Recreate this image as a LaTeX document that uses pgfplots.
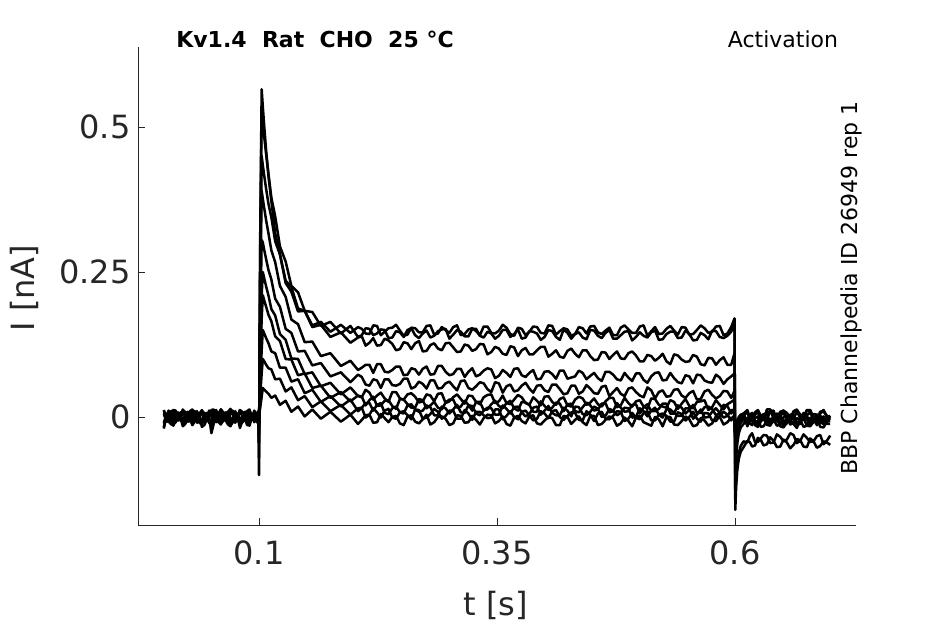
\documentclass[border=0pt]{standalone}
\usepackage{pgfplots}
\pgfplotsset{compat=1.18}
\usepackage{pgfplotstable}
\usepackage{fontspec}
\setmainfont{DejaVu Sans}
\definecolor{tickgray}{HTML}{262626}

\pgfplotstableread{
t A B C D E F G H I J
0.000 0.008 -0.012 0.005 0.010 -0.018 0.006 -0.010 0.012 -0.020 0.004
0.0025 0.005 -0.007 0.006 0.002 -0.001 -0.006 0.003 0.000 0.001 -0.001
0.005 -0.004 0.006 -0.009 0.002 -0.002 -0.008 0.007 -0.004 -0.008 0.011
0.0075 -0.004 0.004 -0.002 0.009 -0.013 0.004 -0.001 0.009 -0.010 0.008
0.010 0.010 -0.008 0.007 0.012 -0.012 0.009 -0.012 0.010 -0.015 -0.006
0.0125 0.010 -0.004 -0.005 0.011 -0.003 0.001 -0.009 0.007 -0.005 -0.005
0.015 -0.002 0.004 -0.006 0.000 0.003 -0.005 0.005 -0.006 -0.002 0.008
0.0175 0.000 0.002 0.008 0.000 0.001 -0.003 0.001 -0.005 -0.001 0.002
0.020 0.012 -0.010 0.009 0.011 -0.014 0.010 -0.009 0.013 -0.016 -0.007
0.0225 0.007 -0.011 0.001 0.004 -0.008 0.009 -0.006 0.005 -0.012 0.004
0.025 0.000 0.003 -0.008 0.003 0.001 -0.007 0.006 -0.002 -0.004 0.009
0.0275 0.002 -0.001 -0.007 0.010 -0.006 -0.001 0.006 -0.002 -0.003 -0.007
0.030 0.009 -0.011 0.006 0.013 -0.010 0.008 -0.013 0.011 -0.014 -0.005
0.0325 -0.005 0.003 0.003 -0.004 0.004 0.006 -0.002 0.010 -0.008 0.006
0.035 -0.005 0.005 -0.010 -0.001 0.002 -0.004 0.004 -0.005 0.000 0.010
0.0375 0.006 -0.006 0.004 0.006 -0.010 0.002 -0.008 0.003 0.002 -0.003
0.040 0.011 -0.009 0.008 0.010 -0.013 0.011 -0.008 0.012 -0.017 -0.004
0.0425 -0.001 -0.003 -0.009 0.007 -0.004 -0.005 0.005 0.001 -0.014 0.001
0.045 -0.003 0.002 -0.007 0.004 0.000 -0.006 0.006 -0.003 -0.005 0.007
0.0475 0.011 -0.010 0.002 -0.002 0.002 0.005 -0.004 0.008 -0.006 -0.008
0.050 0.007 -0.013 0.004 0.012 -0.028 0.007 -0.011 0.010 -0.018 -0.006
0.0525 -0.003 0.001 -0.003 0.013 -0.011 0.008 -0.007 -0.006 -0.002 0.005
0.055 -0.001 0.006 -0.009 0.001 0.002 -0.008 0.005 -0.004 -0.003 0.012
0.0575 0.003 0.005 0.007 0.003 -0.002 -0.007 0.002 0.006 -0.009 0.002
0.060 0.013 -0.010 0.010 0.011 -0.011 0.009 -0.010 0.013 -0.013 -0.003
0.0625 0.008 -0.005 0.000 0.000 -0.007 0.003 0.007 0.004 0.000 -0.006
0.065 -0.004 0.004 -0.006 0.003 -0.001 -0.005 0.007 -0.006 -0.006 0.008
0.0675 -0.006 0.000 -0.006 0.009 0.003 -0.002 -0.005 -0.001 -0.013 0.007
0.070 0.010 -0.012 0.007 0.014 -0.015 0.010 -0.012 0.011 -0.016 -0.005
0.0725 0.004 -0.008 0.005 0.005 -0.009 0.007 0.000 0.011 -0.004 -0.004
0.075 -0.002 0.003 -0.010 0.000 0.003 -0.007 0.004 -0.002 -0.001 0.010
0.0775 0.000 0.006 -0.001 -0.003 -0.005 -0.004 0.004 -0.003 0.000 0.000
0.080 0.011 -0.009 0.008 0.012 -0.012 0.008 -0.009 0.012 -0.019 -0.007
0.0825 0.009 -0.009 0.008 0.007 0.000 0.004 -0.010 0.003 -0.007 0.003
0.085 -0.005 0.005 -0.007 0.002 0.000 -0.006 0.006 -0.005 -0.004 0.009
0.0875 -0.002 -0.002 -0.004 0.010 -0.014 0.010 0.000 0.007 -0.011 0.008
0.090 0.009 -0.011 0.006 0.013 -0.014 0.011 -0.011 0.010 -0.015 -0.004
0.0925 0.005 0.004 0.002 -0.001 0.001 -0.005 -0.003 -0.004 0.003 -0.002
0.095 -0.003 0.004 -0.009 0.001 0.002 -0.004 0.005 -0.003 -0.002 0.011
0.0995 0.006 -0.008 0.005 0.010 -0.010 0.007 -0.008 0.009 -0.012 -0.002
0.1000 -0.100 -0.070 -0.045 -0.030 -0.020 -0.012 -0.008 -0.004 -0.006 0.000
0.1012 0.300 0.280 0.230 0.190 0.140 0.100 0.080 0.055 0.035 0.015
0.1028 0.565 0.530 0.450 0.390 0.305 0.210 0.170 0.115 0.075 0.035
0.1040 0.535 0.508 0.434 0.376 0.301 0.250 0.210 0.150 0.100 0.050
0.1055 0.501 0.483 0.416 0.360 0.288 0.239 0.201 0.144 0.096 0.047
0.1075 0.459 0.453 0.393 0.339 0.272 0.225 0.190 0.136 0.090 0.044
0.1100 0.415 0.418 0.367 0.316 0.253 0.209 0.176 0.127 0.084 0.040
0.1130 0.372 0.378 0.344 0.287 0.237 0.186 0.165 0.113 0.082 0.033
0.1170 0.317 0.346 0.303 0.267 0.204 0.175 0.139 0.110 0.065 0.037
0.1220 0.281 0.294 0.280 0.226 0.190 0.143 0.131 0.085 0.066 0.021
0.1280 0.231 0.268 0.235 0.207 0.152 0.133 0.100 0.085 0.044 0.028
0.1340 0.216 0.226 0.224 0.168 0.145 0.101 0.099 0.061 0.051 0.009
0.1410 0.182 0.215 0.187 0.160 0.113 0.100 0.072 0.065 0.029 0.018
0.1480 0.183 0.183 0.183 0.129 0.114 0.074 0.075 0.041 0.036 0.001
0.1560 0.158 0.181 0.155 0.130 0.089 0.077 0.050 0.047 0.017 0.013
0.1650 0.164 0.157 0.159 0.105 0.093 0.053 0.054 0.026 0.027 -0.003
0.1750 0.147 0.164 0.138 0.110 0.070 0.059 0.033 0.036 0.010 0.009
0.1860 0.159 0.144 0.146 0.088 0.077 0.039 0.043 0.018 0.021 -0.008
0.1960 0.145 0.157 0.128 0.097 0.060 0.051 0.027 0.030 0.004 0.004
0.204 0.155 0.138 0.137 0.081 0.073 0.036 0.037 0.010 0.015 -0.012
0.208 0.152 0.141 0.139 0.085 0.069 0.034 0.035 0.016 0.016 -0.005
0.212 0.144 0.153 0.123 0.090 0.056 0.047 0.020 0.024 -0.001 0.003
0.216 0.143 0.152 0.128 0.090 0.054 0.042 0.029 0.024 0.004 0.004
0.220 0.158 0.141 0.136 0.076 0.065 0.030 0.035 0.011 0.015 -0.010
0.224 0.157 0.144 0.123 0.091 0.063 0.037 0.019 0.021 0.008 -0.009
0.228 0.141 0.151 0.124 0.091 0.050 0.042 0.020 0.024 -0.001 0.005
0.232 0.147 0.150 0.135 0.078 0.065 0.032 0.028 0.007 0.011 -0.002
0.236 0.153 0.136 0.132 0.077 0.065 0.026 0.029 0.005 0.014 -0.009
0.240 0.154 0.137 0.126 0.081 0.055 0.043 0.019 0.015 -0.001 0.000
0.244 0.159 0.148 0.115 0.087 0.054 0.043 0.014 0.018 -0.003 0.002
0.248 0.149 0.146 0.117 0.087 0.057 0.032 0.031 0.008 0.008 -0.011
0.252 0.140 0.138 0.129 0.072 0.066 0.030 0.030 0.006 0.010 -0.014
0.256 0.142 0.150 0.127 0.073 0.066 0.039 0.022 0.020 0.003 0.001
0.260 0.154 0.153 0.117 0.084 0.049 0.041 0.016 0.022 -0.004 0.003
0.264 0.153 0.141 0.127 0.082 0.052 0.035 0.016 0.013 0.013 -0.008
0.268 0.146 0.136 0.131 0.073 0.061 0.025 0.031 0.009 0.012 -0.011
0.272 0.146 0.144 0.113 0.083 0.057 0.027 0.029 0.011 -0.003 -0.004
0.276 0.157 0.149 0.114 0.087 0.049 0.039 0.015 0.020 -0.001 0.004
0.280 0.158 0.137 0.124 0.073 0.063 0.037 0.020 0.017 0.005 -0.013
0.284 0.142 0.140 0.127 0.074 0.063 0.027 0.026 0.003 0.014 -0.009
0.288 0.144 0.148 0.118 0.088 0.049 0.040 0.016 0.003 0.009 0.000
0.292 0.155 0.151 0.115 0.088 0.050 0.041 0.013 0.018 -0.003 0.001
0.296 0.150 0.152 0.127 0.078 0.058 0.024 0.025 0.015 0.002 -0.003
0.300 0.145 0.135 0.128 0.072 0.061 0.027 0.030 0.006 0.011 -0.014
0.304 0.155 0.142 0.120 0.074 0.053 0.034 0.030 0.013 0.011 -0.011
0.308 0.158 0.150 0.112 0.083 0.046 0.039 0.016 0.021 -0.003 0.003
0.312 0.141 0.147 0.113 0.083 0.062 0.031 0.018 0.008 -0.003 0.002
0.316 0.143 0.139 0.125 0.069 0.063 0.023 0.028 0.007 0.012 -0.010
0.320 0.151 0.139 0.123 0.078 0.050 0.037 0.021 0.020 0.006 -0.009
0.324 0.153 0.152 0.114 0.084 0.047 0.036 0.011 0.019 -0.005 0.002
0.328 0.148 0.152 0.117 0.070 0.053 0.026 0.026 0.006 0.009 -0.005
0.332 0.141 0.140 0.126 0.073 0.060 0.022 0.026 0.003 0.009 -0.013
0.336 0.156 0.137 0.125 0.080 0.058 0.034 0.012 0.011 0.003 -0.002
0.340 0.156 0.147 0.108 0.084 0.048 0.038 0.013 0.016 -0.002 0.004
0.344 0.145 0.144 0.112 0.082 0.043 0.039 0.022 0.015 -0.001 0.003
0.348 0.144 0.135 0.121 0.067 0.060 0.024 0.028 0.004 0.013 -0.011
0.352 0.149 0.140 0.118 0.071 0.058 0.027 0.019 0.004 0.013 -0.007
0.356 0.159 0.150 0.109 0.081 0.042 0.037 0.015 0.020 -0.004 0.001
0.360 0.154 0.150 0.107 0.076 0.053 0.024 0.024 0.014 0.002 -0.012
0.364 0.143 0.138 0.122 0.069 0.056 0.022 0.028 0.006 0.010 -0.015
0.368 0.140 0.143 0.120 0.083 0.044 0.030 0.015 0.017 0.000 -0.001
0.372 0.154 0.151 0.105 0.084 0.046 0.038 0.011 0.018 -0.004 0.002
0.376 0.152 0.135 0.115 0.072 0.054 0.034 0.026 0.008 0.009 -0.007
0.380 0.141 0.137 0.119 0.069 0.059 0.024 0.025 0.001 0.011 -0.011
0.384 0.147 0.148 0.108 0.076 0.049 0.021 0.021 0.005 0.003 0.001
0.388 0.156 0.147 0.108 0.081 0.042 0.034 0.009 0.016 -0.006 0.003
0.392 0.155 0.144 0.115 0.065 0.054 0.028 0.009 0.018 -0.003 -0.011
0.396 0.145 0.133 0.121 0.066 0.055 0.020 0.027 0.004 0.010 -0.013
0.400 0.144 0.138 0.121 0.078 0.046 0.035 0.019 0.011 0.006 -0.006
0.404 0.158 0.150 0.104 0.079 0.043 0.036 0.012 0.019 -0.002 0.000
0.408 0.157 0.148 0.109 0.074 0.056 0.026 0.016 0.007 0.010 -0.002
0.412 0.142 0.138 0.115 0.066 0.056 0.021 0.025 0.003 0.012 -0.014
0.416 0.148 0.133 0.104 0.080 0.048 0.031 0.023 0.003 0.000 -0.014
0.420 0.153 0.151 0.102 0.080 0.039 0.034 0.010 0.016 -0.005 0.002
0.424 0.151 0.145 0.114 0.066 0.041 0.020 0.022 0.011 0.002 0.000
0.428 0.140 0.135 0.118 0.068 0.054 0.018 0.023 0.001 0.008 -0.012
0.432 0.143 0.143 0.109 0.070 0.054 0.030 0.010 0.018 0.007 -0.005
0.436 0.155 0.146 0.103 0.080 0.040 0.035 0.008 0.017 -0.005 0.001
0.440 0.153 0.137 0.115 0.076 0.044 0.032 0.017 0.005 -0.006 -0.009
0.444 0.144 0.134 0.115 0.065 0.055 0.021 0.025 0.003 0.010 -0.014
0.448 0.156 0.150 0.105 0.071 0.049 0.025 0.020 0.009 0.004 0.002
0.452 0.157 0.149 0.098 0.076 0.041 0.032 0.011 0.018 -0.007 0.002
0.456 0.146 0.140 0.099 0.067 0.040 0.022 0.013 0.014 0.006 -0.014
0.460 0.143 0.136 0.112 0.062 0.052 0.018 0.023 0.000 0.009 -0.012
0.464 0.149 0.145 0.111 0.078 0.054 0.027 0.024 0.002 -0.003 -0.005
0.468 0.154 0.150 0.100 0.078 0.036 0.033 0.008 0.014 -0.004 0.001
0.472 0.141 0.135 0.107 0.073 0.043 0.033 0.010 0.011 0.002 -0.002
0.476 0.141 0.135 0.113 0.065 0.050 0.017 0.024 0.003 0.010 -0.015
0.480 0.154 0.141 0.101 0.063 0.040 0.020 0.016 0.007 0.009 -0.011
0.484 0.158 0.147 0.100 0.076 0.036 0.033 0.009 0.016 -0.007 -0.001
0.488 0.151 0.148 0.110 0.068 0.049 0.024 0.010 0.015 -0.003 -0.007
0.492 0.145 0.132 0.113 0.062 0.051 0.018 0.021 -0.001 0.007 -0.016
0.496 0.145 0.138 0.106 0.075 0.043 0.027 0.022 0.000 -0.001 -0.001
0.500 0.156 0.146 0.096 0.075 0.037 0.029 0.006 0.015 -0.004 0.002
0.504 0.158 0.140 0.096 0.064 0.034 0.018 0.017 0.010 0.007 -0.009
0.508 0.140 0.137 0.107 0.059 0.051 0.014 0.022 0.001 0.010 -0.012
0.512 0.148 0.146 0.105 0.070 0.046 0.032 0.010 0.011 -0.006 -0.015
0.516 0.155 0.149 0.097 0.076 0.032 0.031 0.010 0.016 -0.006 0.000
0.520 0.143 0.133 0.102 0.077 0.043 0.021 0.014 0.004 0.004 -0.004
0.524 0.144 0.134 0.109 0.063 0.046 0.018 0.023 -0.001 0.006 -0.016
0.528 0.152 0.143 0.096 0.064 0.035 0.016 0.023 0.013 0.002 0.000
0.532 0.157 0.147 0.091 0.076 0.036 0.029 0.006 0.013 -0.008 0.000
0.536 0.149 0.147 0.108 0.067 0.047 0.026 0.006 0.007 -0.008 -0.013
0.540 0.142 0.136 0.106 0.060 0.048 0.014 0.020 0.002 0.008 -0.014
0.544 0.155 0.137 0.099 0.058 0.037 0.023 0.016 0.002 0.005 -0.007
0.548 0.154 0.149 0.095 0.072 0.033 0.031 0.006 0.015 -0.006 0.001
0.552 0.142 0.143 0.096 0.070 0.041 0.019 0.012 0.015 0.000 -0.004
0.556 0.143 0.132 0.107 0.058 0.045 0.015 0.021 -0.003 0.009 -0.016
0.560 0.150 0.133 0.104 0.073 0.030 0.026 0.007 0.004 -0.003 -0.014
0.564 0.158 0.145 0.091 0.072 0.031 0.027 0.007 0.013 -0.008 -0.002
0.568 0.153 0.141 0.089 0.063 0.044 0.029 0.017 -0.001 0.007 -0.006
0.572 0.145 0.134 0.102 0.060 0.047 0.012 0.018 0.000 0.006 -0.015
0.576 0.147 0.149 0.101 0.059 0.038 0.017 0.014 0.009 -0.006 -0.011
0.580 0.156 0.148 0.090 0.073 0.032 0.029 0.003 0.015 -0.007 0.001
0.584 0.157 0.138 0.098 0.068 0.036 0.021 0.007 0.007 0.002 0.000
0.588 0.141 0.136 0.103 0.057 0.045 0.013 0.021 -0.001 0.009 -0.013
0.592 0.144 0.140 0.090 0.065 0.044 0.022 0.019 0.002 0.004 -0.009
0.596 0.155 0.147 0.090 0.070 0.033 0.026 0.006 0.012 -0.006 -0.001
0.5995 0.170 0.162 0.110 0.075 0.045 0.030 0.015 0.012 0.004 -0.004
0.6003 -0.160 -0.140 -0.110 -0.090 -0.070 -0.050 -0.040 -0.030 -0.020 -0.015
0.6012 -0.120 -0.105 -0.070 -0.055 -0.040 -0.030 -0.025 -0.018 -0.012 -0.010
0.6025 -0.090 -0.080 -0.045 -0.030 -0.022 -0.015 -0.012 -0.008 -0.006 -0.008
0.6040 -0.072 -0.062 -0.028 -0.018 -0.010 -0.005 -0.004 -0.002 0.000 -0.004
0.6060 -0.060 -0.050 -0.018 -0.010 -0.004 0.000 0.002 0.003 0.004 0.000
0.6090 -0.052 -0.042 -0.012 -0.004 0.002 0.004 0.006 0.005 0.006 0.002
0.613 -0.041 -0.044 -0.001 -0.010 0.009 -0.011 0.012 -0.011 0.008 -0.016
0.6155 -0.043 -0.033 -0.011 0.004 0.001 -0.001 -0.002 -0.001 -0.003 -0.006
0.618 -0.051 -0.028 -0.014 0.007 -0.005 0.005 -0.003 0.002 -0.008 -0.002
0.621 -0.049 -0.043 -0.002 -0.007 0.008 -0.010 0.007 -0.010 0.004 -0.014
0.624 -0.036 -0.043 0.001 -0.008 0.012 -0.009 0.010 -0.014 0.009 -0.017
0.627 -0.039 -0.037 -0.017 0.000 0.003 0.001 0.000 -0.006 -0.006 -0.008
0.630 -0.049 -0.031 -0.016 0.005 -0.003 0.004 -0.005 0.001 -0.005 -0.001
0.6335 -0.047 -0.032 -0.006 0.006 -0.004 -0.006 0.013 -0.014 0.007 -0.013
0.637 -0.035 -0.045 -0.003 -0.011 0.010 -0.012 0.013 -0.012 0.010 -0.015
0.6405 -0.041 -0.044 -0.004 -0.008 0.011 0.003 0.002 -0.002 -0.001 -0.004
0.644 -0.052 -0.030 -0.015 0.006 -0.006 0.002 -0.002 0.003 -0.007 -0.003
0.6475 -0.051 -0.034 -0.013 0.001 0.000 -0.012 0.009 0.001 0.006 -0.016
0.651 -0.039 -0.042 0.000 -0.007 0.011 -0.013 0.011 -0.015 0.007 -0.018
0.6545 -0.044 -0.039 0.000 -0.005 0.007 -0.002 -0.003 -0.011 -0.005 -0.009
0.658 -0.054 -0.028 -0.013 0.004 -0.002 0.003 -0.004 0.000 -0.008 -0.004
0.6615 -0.048 -0.031 -0.010 0.005 -0.003 0.002 0.010 -0.003 0.009 -0.012
0.665 -0.038 -0.045 -0.002 -0.009 0.009 -0.010 0.013 -0.013 0.010 -0.019
0.6685 -0.040 -0.041 -0.005 -0.010 0.005 -0.008 0.003 -0.012 -0.002 -0.003
0.672 -0.051 -0.030 -0.017 0.007 -0.005 0.005 -0.001 0.002 -0.004 -0.002
0.6755 -0.052 -0.036 -0.015 0.002 0.012 -0.003 0.012 -0.004 0.003 -0.015
0.679 -0.037 -0.043 -0.001 -0.010 0.012 -0.011 0.010 -0.015 0.008 -0.016
0.6825 -0.042 -0.042 -0.003 -0.006 -0.001 0.005 -0.001 -0.009 -0.004 -0.007
0.686 -0.053 -0.033 -0.014 0.004 -0.004 0.004 -0.005 0.003 -0.007 -0.001
0.6895 -0.050 -0.031 -0.008 0.003 0.009 -0.009 0.006 0.000 0.007 -0.017
0.693 -0.042 -0.047 0.001 -0.008 0.011 -0.012 0.012 -0.012 0.010 -0.018
0.6965 -0.044 -0.041 -0.012 -0.001 0.001 -0.004 0.000 -0.008 0.002 -0.008
0.700 -0.048 -0.032 -0.012 0.002 -0.001 0.001 0.001 -0.002 -0.001 -0.007
}\data

\begin{document}
\begin{tikzpicture}
\path[use as bounding box] (0,0) rectangle (945pt,624pt);
\begin{axis}[
  at={(138pt,99pt)}, anchor=south west,
  scale only axis, width=718pt, height=478pt,
  xmin=-0.0271, xmax=0.7271, ymin=-0.1862, ymax=0.6379,
  axis x line*=bottom, axis y line*=left,
  axis line style={draw=tickgray, line width=0.9pt},
  tick align=inside,
  major tick length=7pt,
  major tick style={draw=tickgray, line width=0.9pt},
  xtick={0.1,0.35,0.6}, xticklabels={0.1,0.35,0.6},
  ytick={0,0.25,0.5}, yticklabels={0,0.25,0.5},
  ticklabel style={font=\fontsize{32}{38}\selectfont, text=tickgray},
  xticklabel style={yshift=-12pt},
  yticklabel style={xshift=-4pt},
  clip=false,
]
\foreach \c in {J,I,H,G,F,E,D,C,B,A}{
  \addplot[black, line width=2.5pt, line join=round] table[x=t, y=\c] {\data};
}
\end{axis}
\node[font=\fontsize{22}{26}\selectfont\bfseries, anchor=center] at (315pt,585pt) {Kv1.4\ \ Rat\ \ CHO\ \ 25 °C};
\node[font=\fontsize{22}{26}\selectfont, anchor=center] at (783pt,585pt) {Activation};
\node[font=\fontsize{22}{26}\selectfont, rotate=90, anchor=base] at (857pt,336pt) {BBP Channelpedia ID 26949 rep 1};
\node[font=\fontsize{32}{38}\selectfont, text=tickgray, anchor=base] at (496pt,9pt) {t [s]};
\node[font=\fontsize{32}{38}\selectfont, text=tickgray, rotate=90, anchor=base] at (34pt,336pt) {I [nA]};
\end{tikzpicture}
\end{document}
